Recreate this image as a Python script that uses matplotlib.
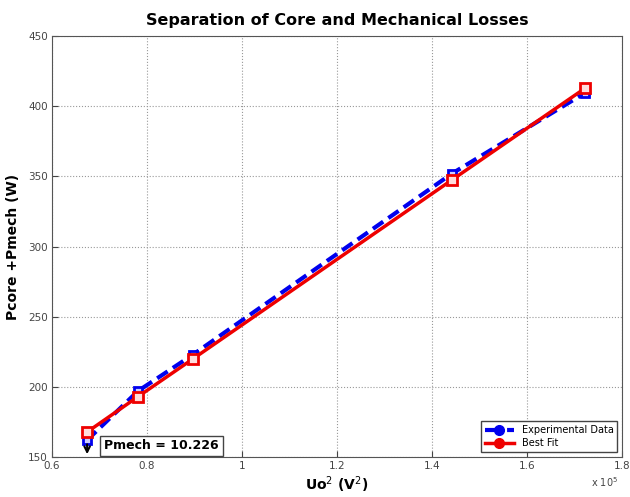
import matplotlib
matplotlib.use('Agg')
import matplotlib.pyplot as plt
from matplotlib.lines import Line2D

# Uo^2 values (x 10^5 V^2)
uo_sq = [0.674, 0.781, 0.897, 1.442, 1.722]
p_exp = [162.0, 197.0, 223.0, 352.0, 409.5]
p_fit = [167.8, 193.0, 220.0, 347.5, 412.8]
pmech_text = 'Pmech = 10.226'

fig = plt.figure(figsize=(6.3, 4.97), dpi=100)
ax = fig.add_axes([0.0825, 0.0805, 0.905, 0.847])

ax.plot(uo_sq, p_exp, color='#0000ee', ls='--', lw=3, marker='s', ms=6,
        mfc='#ccccff', mec='#0000ee', mew=2, dashes=(3, 1.5), zorder=3)
ax.plot(uo_sq, p_fit, color='#ee0000', ls='-', lw=2.5, marker='s', ms=7,
        mfc='#ffdddd', mec='#ee0000', mew=2, zorder=4)

ax.set_xlim(0.6, 1.8)
ax.set_ylim(150, 450)
ax.set_xticks([0.6, 0.8, 1, 1.2, 1.4, 1.6, 1.8])
ax.set_xticklabels(['0.6', '0.8', '1', '1.2', '1.4', '1.6', '1.8'])
ax.set_yticks(range(150, 451, 50))
ax.tick_params(direction='in', labelsize=7.5, colors='#444444', length=4, pad=3)
ax.grid(True, color='0.6', linestyle=':', linewidth=0.8)
for s in ax.spines.values():
    s.set_color('#555555')

ax.set_title('Separation of Core and Mechanical Losses', fontsize=11.5,
             fontweight='bold', pad=8)
ax.set_xlabel('Uo$^2$ (V$^2$)', fontsize=10, fontweight='bold', labelpad=2)
ax.set_ylabel('Pcore +Pmech (W)', fontsize=10, fontweight='bold', labelpad=6)
fig.text(0.96, 0.02, r'x 10$^5$', fontsize=7, color='#444444', ha='center')

# Pmech annotation
ax.annotate('', xy=(uo_sq[0], 150), xytext=(uo_sq[0], 161),
            arrowprops=dict(arrowstyle='->', color='black', lw=1.5), zorder=5)
ax.text(0.71, 158, pmech_text, fontsize=9, fontweight='bold', va='center',
        bbox=dict(boxstyle='square,pad=0.3', fc='white', ec='#444444', lw=1),
        zorder=6)

handles = [Line2D([], [], color='#0000ee', ls='--', lw=3, marker='o', ms=7),
           Line2D([], [], color='#ee0000', ls='-', lw=2.5, marker='o', ms=7)]
leg = ax.legend(handles, ['Experimental Data', 'Best Fit'], loc='lower right',
                fontsize=7, fancybox=False, edgecolor='#444444', framealpha=1,
                handlelength=3, borderpad=0.4, labelspacing=0.3)

fig.savefig('out.png', dpi=100)
